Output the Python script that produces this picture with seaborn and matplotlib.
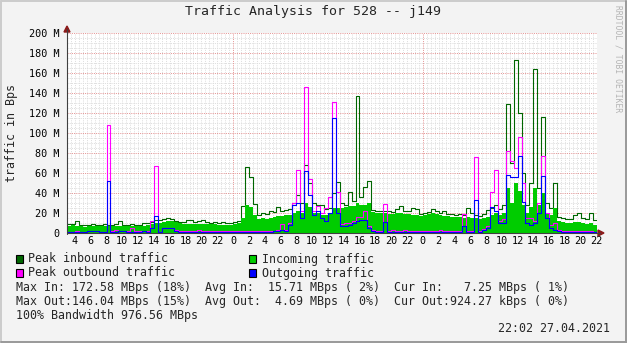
import numpy as np
import matplotlib
matplotlib.use("Agg")
import matplotlib.pyplot as plt
import seaborn as sns
from matplotlib.patches import Rectangle, Polygon
from matplotlib.lines import Line2D

# ---------------- data (values in MBps, one value per 30-minute step) ----------------
t_start = -21.0          # hours relative to first midnight
step_h = 0.5
t_end = 46.05

peak_in = [9, 9, 12, 8, 8, 8, 9, 8, 8, 9, 8, 8, 9, 12, 8, 8, 9, 8, 8, 10,
           10, 11, 13, 13, 14, 15, 14, 12, 11, 11, 13, 13, 11, 12, 13, 11, 10, 11, 10, 11,
           10, 10,
           11, 12, 27, 66, 56, 29, 18, 20, 19, 22, 21, 26, 22, 23,
           24, 30, 38, 30, 68, 50, 30, 28, 28, 24, 25, 40, 51, 30,
           28, 41, 32, 137, 36, 46, 52, 23, 22, 22, 22, 22, 21, 24, 27, 22, 22, 25, 24, 19,
           20, 21, 24, 22, 20, 22, 19, 19, 18, 19, 18, 25, 20, 18, 17, 19, 23, 25, 28, 24,
           28, 129, 70, 173, 120, 60, 28, 50, 164, 45, 116, 30, 25, 50, 16, 15, 14, 14, 18, 20,
           15, 14, 20, 13]
incoming = [7, 8, 7, 7, 6, 7, 7, 7, 7, 7, 7, 7, 7, 7, 7, 7, 7, 7, 7, 7,
            8, 9, 10, 10, 11, 12, 12, 11, 10, 9, 9, 9, 9, 9, 9, 9, 9, 9, 8, 8,
            8, 8,
            9, 10, 15, 28, 26, 18, 14, 15, 14, 15, 16, 17, 17, 18,
            18, 20, 22, 20, 30, 26, 20, 20, 18, 18, 20, 25, 25, 25,
            26, 27, 27, 30, 28, 28, 30, 21, 20, 20, 20, 19, 19, 20, 20, 19, 19, 18, 18, 17,
            18, 19, 20, 19, 18, 17, 17, 16, 16, 16, 15, 16, 15, 15, 14, 15, 16, 18, 20, 18,
            20, 45, 30, 50, 42, 28, 20, 26, 45, 28, 40, 20, 18, 25, 12, 11, 10, 10, 11, 11,
            10, 9, 10, 8]
peak_out = [1, 1, 2, 1, 1, 2, 2, 2, 1, 1, 108, 2, 3, 2, 2, 2, 5, 2, 2, 2,
            2, 12, 67, 1, 5, 5, 5, 3, 2, 2, 2, 2, 2, 3, 2, 2, 2, 2, 2, 2,
            2, 2,
            2, 2, 2, 2, 2, 2, 2, 2, 2, 2, 2, 3, 9, 3,
            10, 30, 63, 22, 146, 54, 22, 27, 20, 25, 36, 131, 41, 9,
            10, 10, 12, 16, 16, 22, 7, 3, 2, 2, 29, 2, 3, 2, 2, 3, 2, 2, 2, 2,
            2, 2, 2, 2, 3, 2, 2, 2, 2, 2, 19, 2, 2, 76, 2, 4, 7, 41, 63, 12,
            14, 82, 72, 65, 96, 50, 15, 15, 12, 30, 77, 20, 8, 10, 3, 2, 2, 2, 2, 2,
            2, 2, 2, 1.5]
outgoing = [1, 1, 1, 1, 1, 2, 2, 2, 1, 1, 52, 1, 1, 2, 2, 1, 1, 1, 1, 2,
            1, 5, 17, 1, 5, 5, 5, 2, 1, 1, 1, 1, 1, 1, 1, 1, 1, 1, 1, 1,
            1, 1,
            1.5, 1.5, 1.5, 1.5, 1.5, 1.5, 1.5, 1.5, 1.5, 1.5, 2, 2, 3, 2,
            8, 28, 30, 15, 62, 38, 18, 22, 15, 12, 20, 115, 20, 7,
            7, 8, 10, 12, 13, 13, 5, 2, 1.5, 1.5, 11, 1.5, 1.5, 1.5, 1.5, 1.5, 1.5, 1.5, 1.5, 1.5,
            1.5, 1.5, 1.5, 1.5, 1.5, 1.5, 1.5, 1.5, 1.5, 1.5, 7, 1.5, 1.5, 33, 1.5, 3, 5, 26, 22, 10,
            10, 58, 56, 56, 77, 31, 10, 8, 10, 20, 57, 15, 5, 3, 2, 1.5, 1.5, 1.5, 1.5, 1.5,
            1.5, 1.5, 1.5, 1]

title = "Traffic Analysis for 528 -- j149"
y_label = "traffic in Bps"
legend_items = [("Peak inbound traffic", "#006600"), ("Incoming traffic", "#00cc00"),
                ("Peak outbound traffic", "#ff00ff"), ("Outgoing traffic", "#0000ff")]
stats_lines = [
    "Max In: 172.58 MBps (18%)  Avg In:  15.71 MBps ( 2%)  Cur In:   7.25 MBps ( 1%)",
    "Max Out:146.04 MBps (15%)  Avg Out:  4.69 MBps ( 0%)  Cur Out:924.27 kBps ( 0%)",
    "100% Bandwidth 976.56 MBps",
]
timestamp = "22:02 27.04.2021"
watermark = "RRDTOOL / TOBI OETIKER"
y_ticks = list(range(0, 201, 20))
y_tick_labels = ["0"] + [f"{v} M" for v in y_ticks[1:]]
x_ticks = list(range(-20, 47, 2))
x_tick_labels = [str(t % 24) for t in x_ticks]

# ---------------- figure ----------------
sns.set_style("white")
plt.rcParams['font.family'] = ['DejaVu Sans Mono']

W, H = 627, 343
fig = plt.figure(figsize=(W / 100, H / 100), dpi=100, facecolor='#f3f3f3')


def fx(px):
    return px / W


def fy(py):
    return 1 - py / H


L, R, T, B = 67, 597, 33, 233
ax = fig.add_axes([fx(L), fy(B), (R - L) / W, (B - T) / H])
ax.set_facecolor('white')
ax.set_xlim(t_start, t_end)
ax.set_ylim(0, 200)
for s in ax.spines.values():
    s.set_visible(False)

# grid (light dotted lines)
dot = (0, (1, 1.2))
gkw = dict(linewidth=0.72, linestyles=dot)
minor_v = [t for t in np.arange(t_start + step_h, t_end, step_h) if abs(t % 24) > 1e-6]
ax.vlines(minor_v, 0, 200, colors='#dddddd', zorder=0, **gkw)
ax.vlines([0, 24], 0, 200, colors='#e49494', zorder=0.5, **gkw)
minor_h = [v for v in range(5, 201, 5) if v % 20]
ax.hlines(minor_h, t_start, t_end, colors='#dddddd', zorder=0, **gkw)
ax.hlines(y_ticks[1:], t_start, t_end, colors='#e49494', zorder=0.5, **gkw)

n = len(incoming)
tt = np.append(t_start + step_h * np.arange(n), t_end)


def ext(v):
    return np.append(np.asarray(v, float), v[-1])


lw = 0.8
sns.lineplot(x=tt, y=ext(peak_in), drawstyle='steps-post', color='#006600',
             linewidth=lw, ax=ax, estimator=None, sort=False, zorder=2)
ax.fill_between(tt, ext(incoming), step='post', color='#00cc00', linewidth=0, zorder=3)
sns.lineplot(x=tt, y=ext(peak_out), drawstyle='steps-post', color='#ff00ff',
             linewidth=lw, ax=ax, estimator=None, sort=False, zorder=4)
sns.lineplot(x=tt, y=ext(outgoing), drawstyle='steps-post', color='#0000ff',
             linewidth=lw, ax=ax, estimator=None, sort=False, zorder=5)

ax.set_xticks(x_ticks)
ax.set_xticklabels(x_tick_labels)
ax.set_yticks(y_ticks)
ax.set_yticklabels(y_tick_labels)
ax.tick_params(axis='x', length=0, pad=2.5, labelsize=7.3, labelcolor='black')
ax.tick_params(axis='y', length=0, pad=5.2, labelsize=7.3, labelcolor='black')
ax.set_xlabel("")
ax.set_ylabel("")

# axes lines and arrows
fig.add_artist(Line2D([fx(67), fx(67)], [fy(233.5), fy(29)], color='#404040', linewidth=0.8))
fig.add_artist(Line2D([fx(66.5), fx(600)], [fy(233), fy(233)], color='#404040', linewidth=0.8))
fig.add_artist(Polygon([[fx(64), fy(32)], [fx(70), fy(32)], [fx(67), fy(26)]],
                       closed=True, color='#8b1a1a', transform=fig.transFigure))
fig.add_artist(Polygon([[fx(598), fy(230)], [fx(598), fy(236)], [fx(604), fy(233)]],
                       closed=True, color='#8b1a1a', transform=fig.transFigure))

# texts
fs = 8.35
fig.text(fx(313), fy(12), title, ha='center', va='center', fontsize=9.5)
fig.text(fx(12), fy(133), y_label, ha='center', va='center', rotation=90, fontsize=fs)
fig.text(fx(618), fy(59), watermark, ha='center', va='center', rotation=270,
         fontsize=5.8, color='#b4b4b4')

pos = [(16, 259), (249, 259), (16, 273), (249, 273)]
for (lab, col), (px, py) in zip(legend_items, pos):
    fig.add_artist(Rectangle((fx(px), fy(py + 4)), 7 / W, 8 / H, facecolor=col,
                             edgecolor='black', linewidth=0.8, transform=fig.transFigure))
    fig.text(fx(px + 12.5), fy(py), lab, ha='left', va='center', fontsize=fs)

for k, line in enumerate(stats_lines):
    fig.text(fx(16), fy(287 + 14 * k), line, ha='left', va='center', fontsize=fs)
fig.text(fx(610), fy(329), timestamp, ha='right', va='center', fontsize=fs)

# image border shading
fig.add_artist(Line2D([fx(0.5), fx(626)], [fy(0.5), fy(0.5)], color='#cbcbcb', linewidth=1.4))
fig.add_artist(Line2D([fx(0.5), fx(0.5)], [fy(0.5), fy(342)], color='#cbcbcb', linewidth=1.4))
fig.add_artist(Line2D([fx(625.5), fx(625.5)], [fy(1), fy(342.5)], color='#999999', linewidth=1.4))
fig.add_artist(Line2D([fx(1), fx(626)], [fy(341.5), fy(341.5)], color='#999999', linewidth=1.4))

fig.savefig("out.png", dpi=100, facecolor=fig.get_facecolor())
